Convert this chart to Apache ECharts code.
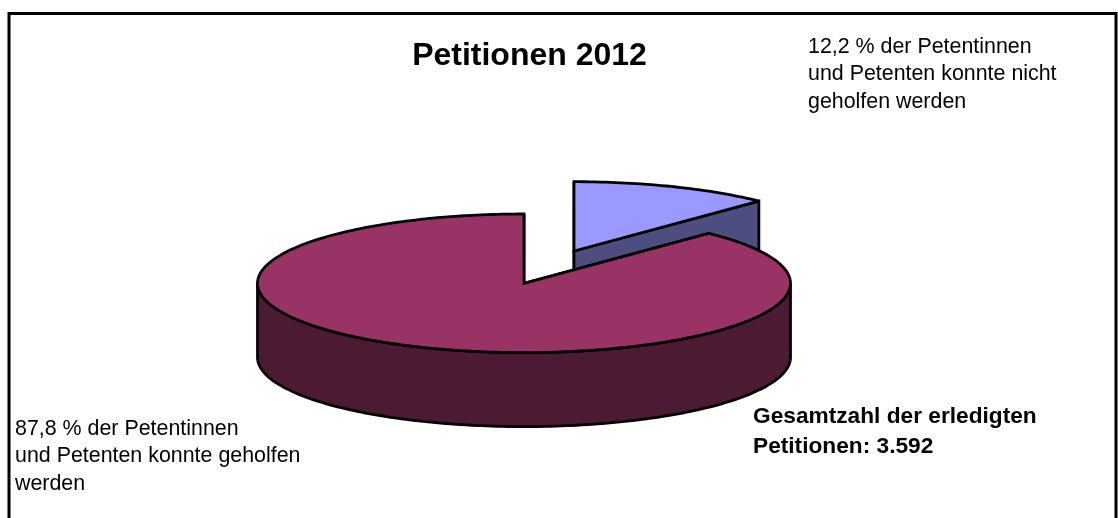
<!DOCTYPE html>
<html><head><meta charset="utf-8">
<style>html,body{margin:0;padding:0;background:#fff}#c{width:1118px;height:518px}</style>
<script src="https://cdn.jsdelivr.net/npm/echarts@6/dist/echarts.min.js"></script>
</head><body><div id="c"></div>
<script>
const categories = ['nicht geholfen', 'geholfen'];
const shares = [12.2, 87.8];
const titleText = 'Petitionen 2012';
const labelBlue = '12,2 % der Petentinnen\nund Petenten konnte nicht\ngeholfen werden';
const labelRed = '87,8 % der Petentinnen\nund Petenten konnte geholfen\nwerden';
const labelTotal = 'Gesamtzahl der erledigten\nPetitionen: 3.592';
const topColors = ['#9999FF', '#993366'];
const sideColors = ['#4D4D80', '#4D1A33'];
const offsets = [[50, -32.3], [0, 0]];

const pie = { cx: 524, cy: 283.3, rx: 266.5, ry: 69.3, depth: 74 };
const total = shares.reduce((a, b) => a + b, 0);
const FONT = '"Liberation Sans", Arial, sans-serif';
const LINE = { stroke: '#000', lineWidth: 2.8, lineJoin: 'miter', miterLimit: 3 };

function pt(a, ox, oy, dz) {
  return [pie.cx + ox + pie.rx * Math.sin(a), pie.cy + oy - pie.ry * Math.cos(a) + (dz || 0)];
}
function arc(a0, a1, ox, oy, dz) {
  const n = Math.max(2, Math.ceil(Math.abs(a1 - a0) / 0.02)), out = [];
  for (let i = 0; i <= n; i++) out.push(pt(a0 + (a1 - a0) * i / n, ox, oy, dz));
  return out;
}
function poly(points, fill) {
  return { type: 'polygon', shape: { points }, style: Object.assign({ fill }, LINE) };
}
function renderItem(params, api) {
  const i = params.dataIndex;
  let before = 0;
  for (let k = 0; k < i; k++) before += shares[k];
  const a0 = before / total * 2 * Math.PI;
  const a1 = (before + api.value(0)) / total * 2 * Math.PI;
  const [ox, oy] = offsets[i];
  const apex = [pie.cx + ox, pie.cy + oy];
  const d = pie.depth;
  const down = p => [p[0], p[1] + d];
  const children = [];
  [a0, a1].forEach(a => {
    const e = pt(a, ox, oy);
    children.push(poly([apex, e, down(e), down(apex)], sideColors[i]));
  });
  const f0 = Math.max(a0, Math.PI / 2), f1 = Math.min(a1, 1.5 * Math.PI);
  if (f1 > f0) {
    const t = arc(f0, f1, ox, oy, 0), b = arc(f1, f0, ox, oy, d);
    children.push(poly(t.concat(b), sideColors[i]));
  }
  children.push(poly([apex].concat(arc(a0, a1, ox, oy, 0)), topColors[i]));
  return { type: 'group', children };
}
const bodyText = { fontFamily: FONT, fontSize: 21.4, lineHeight: 27.5, fill: '#000' };
const chart = echarts.init(document.getElementById('c'), null, { renderer: 'canvas' });
chart.setOption({
  animation: false,
  backgroundColor: '#fff',
  title: { text: titleText, left: 524.5, top: 35, textAlign: 'center',
    textStyle: { fontFamily: FONT, fontSize: 32, fontWeight: 'bold', color: '#000' } },
  series: [{
    type: 'custom', coordinateSystem: 'none', renderItem,
    data: shares.map((v, i) => ({ name: categories[i], value: [v] }))
  }],
  graphic: [
    { type: 'rect', silent: true, shape: { x: 9, y: 13.5, width: 1107, height: 520 },
      style: { fill: 'none', stroke: '#000', lineWidth: 3 } },
    { type: 'text', left: 808, top: 33, style: Object.assign({ text: labelBlue }, bodyText) },
    { type: 'text', left: 15, top: 415, style: Object.assign({ text: labelRed }, bodyText) },
    { type: 'text', left: 753, top: 402, style: Object.assign({ text: labelTotal, fontWeight: 'bold' }, bodyText, { fontSize: 22.7, lineHeight: 29.5 }) }
  ]
});
</script></body></html>
